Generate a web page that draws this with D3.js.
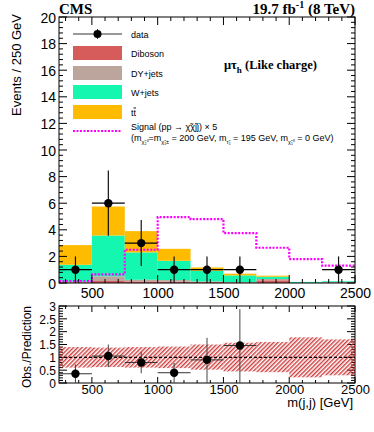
<!DOCTYPE html>
<html><head><meta charset="utf-8">
<script src="https://cdn.jsdelivr.net/npm/d3@7"></script>
<style>body{margin:0;background:#fff}svg{display:block}</style>
</head><body>
<svg id="c" width="374" height="432"></svg>
<script>
const binEdges = [250,500,750,1000,1250,1500,1750,2000,2250,2500];
const diboson = [0.05,0.15,0.12,0.10,0.07,0.05,0.20,0.01,0.05];
const dyjets  = [0.05,0.35,0.12,0.12,0.05,0.02,0.10,0.00,0.02];
const wjets   = [1.27,3.07,2.06,1.45,0.80,0.50,0.17,0.07,0.06];
const ttbar   = [1.48,2.18,1.60,0.90,0.25,0.13,0.08,0.00,0.00];
const signal  = [0.15,0.65,2.50,4.95,4.80,3.75,2.65,1.80,1.30];
const dataVal = [1,6,3,1,1,1,0,0,1];
const dataUp  = [2,8.45,4.73,2,2,2,0,0,2];
const dataDn  = [0,3.55,1.27,0,0,0,0,0,0];
const ratioVal = [0.36,1.05,0.80,0.40,0.90,1.46];
const ratioUp  = [0.72,1.50,1.21,0.78,1.76,2.88];
const ratioDn  = [0,0.62,0.38,0,0,0];
const bandUp   = [1.40,1.38,1.40,1.42,1.50,1.57,1.60,1.78,1.70];
const bandDn   = [0.60,0.62,0.60,0.58,0.52,0.45,0.42,0.22,0.30];
const xTicks = [500,1000,1500,2000,2500];
const yTicks = [0,2,4,6,8,10,12,14,16,18,20];
const rTicks = [0,0.5,1,1.5,2,2.5,3];
const rTickLabels = ["0","0.5","1","1.5","2","2.5","3"];
const seriesNames = ["Diboson","DY+jets","W+jets","tt"];
const seriesColors = ["#d65b5b","#bca59d","#14f7b0","#ffbb00"];

const svg = d3.select("#c");
const L=59, R=355, T=17, B=283, RT=306, RB=383;
const x = d3.scaleLinear().domain([250,2500]).range([L,R]);
const y = d3.scaleLinear().domain([0,20]).range([B,T]);
const ry = d3.scaleLinear().domain([0,3]).range([RB,RT]);
const sans = "'Liberation Sans', Arial, Helvetica, sans-serif";
const serif = "'Liberation Serif', 'Times New Roman', serif";

// stacked histogram
const rows = binEdges.slice(0,-1).map((e,i)=>({lo:e,hi:binEdges[i+1],Diboson:diboson[i],"DY+jets":dyjets[i],"W+jets":wjets[i],tt:ttbar[i]}));
const stacked = d3.stack().keys(seriesNames)(rows);
stacked.forEach((layer,k)=>{
  svg.append("g").selectAll("rect").data(layer).join("rect")
    .attr("x",d=>x(d.data.lo)).attr("width",d=>x(d.data.hi)-x(d.data.lo))
    .attr("y",d=>y(d[1])).attr("height",d=>Math.max(0,y(d[0])-y(d[1])))
    .attr("fill",seriesColors[k]);
});

// signal step line
let sp = [];
signal.forEach((v,i)=>{ sp.push([x(binEdges[i]),y(v)]); sp.push([x(binEdges[i+1]),y(v)]); });
svg.append("path").attr("d",d3.line()(sp)).attr("fill","none").attr("stroke","#ff00ff")
  .attr("stroke-width",2.2).attr("stroke-dasharray","2,1.5");

// data points
const dpts = dataVal.map((v,i)=>({v,up:dataUp[i],dn:dataDn[i],lo:binEdges[i],hi:binEdges[i+1]})).filter(d=>d.v>0);
const dg = svg.append("g");
dpts.forEach(d=>{
  const cx = x((d.lo+d.hi)/2);
  dg.append("line").attr("x1",x(d.lo)).attr("x2",x(d.hi)).attr("y1",y(d.v)).attr("y2",y(d.v)).attr("stroke","#000").attr("stroke-width",1.2);
  dg.append("line").attr("x1",cx).attr("x2",cx).attr("y1",y(d.up)).attr("y2",y(d.dn)).attr("stroke","#111").attr("stroke-width",1.2);
  dg.append("circle").attr("cx",cx).attr("cy",y(d.v)).attr("r",4.2).attr("fill","#000");
});

// axes helpers
function frame(top,bot){
  svg.append("rect").attr("x",L).attr("y",top).attr("width",R-L).attr("height",bot-top).attr("fill","none").attr("stroke","#000").attr("stroke-width",1);
}
function ticksX(top,bot,major,minor,fontSize,labelY){
  const g = svg.append("g");
  d3.range(300,2501,100).forEach(v=>{
    const isMaj = xTicks.includes(v);
    const len = isMaj?major:minor;
    g.append("line").attr("x1",x(v)).attr("x2",x(v)).attr("y1",bot).attr("y2",bot-len).attr("stroke","#000");
    g.append("line").attr("x1",x(v)).attr("x2",x(v)).attr("y1",top).attr("y2",top+len).attr("stroke","#000");
  });
  const ax = d3.axisBottom(x).tickValues(xTicks).tickFormat(d3.format("d")).tickSize(0).tickPadding(0);
  const a = svg.append("g").attr("transform",`translate(0,${labelY})`).call(ax);
  a.select(".domain").remove();
  a.selectAll("text").attr("font-family",sans).attr("font-size",fontSize).attr("fill","#000").attr("dy","0");
}
frame(T,B); frame(RT,RB);
ticksX(T,B,8,4,"14px",B+15);
ticksX(RT,RB,6,3,"13px",RB+11);

// main y ticks
const yg = svg.append("g");
d3.range(0,20.01,0.4).forEach(v=>{
  const isMaj = Math.abs(v/2-Math.round(v/2))<1e-6;
  const len = isMaj?8:4;
  yg.append("line").attr("x1",L).attr("x2",L+len).attr("y1",y(v)).attr("y2",y(v)).attr("stroke","#000");
  yg.append("line").attr("x1",R).attr("x2",R-len).attr("y1",y(v)).attr("y2",y(v)).attr("stroke","#000");
});
const yax = svg.append("g").attr("transform",`translate(${L-3},0)`).call(d3.axisLeft(y).tickValues(yTicks).tickSize(0).tickPadding(0));
yax.select(".domain").remove();
yax.selectAll("text").attr("font-family",sans).attr("font-size","14px").attr("fill","#000").attr("dy","0.36em");

// ratio y ticks
const rg = svg.append("g");
d3.range(0,3.001,0.1).forEach(v=>{
  const isMaj = Math.abs(v*2-Math.round(v*2))<1e-6;
  const len = isMaj?8:4;
  rg.append("line").attr("x1",L).attr("x2",L+len).attr("y1",ry(v)).attr("y2",ry(v)).attr("stroke","#000");
  rg.append("line").attr("x1",R).attr("x2",R-len).attr("y1",ry(v)).attr("y2",ry(v)).attr("stroke","#000");
});
const rax = svg.append("g").attr("transform",`translate(${L-3},0)`).call(d3.axisLeft(ry).tickValues(rTicks).tickFormat((d,i)=>rTickLabels[i]).tickSize(0).tickPadding(0));
rax.select(".domain").remove();
rax.selectAll("text").attr("font-family",sans).attr("font-size","12px").attr("fill","#000").attr("dy","0.36em");

// hatch band
const defs = svg.append("defs");
const pat = defs.append("pattern").attr("id","hatch").attr("patternUnits","userSpaceOnUse").attr("width",3).attr("height",3).attr("patternTransform","rotate(45)");
pat.append("line").attr("x1",0.75).attr("y1",0).attr("x2",0.75).attr("y2",3).attr("stroke","#c92a2a").attr("stroke-width",1.3);
svg.append("g").selectAll("rect").data(bandUp).join("rect")
  .attr("x",(d,i)=>x(binEdges[i])).attr("width",(d,i)=>x(binEdges[i+1])-x(binEdges[i]))
  .attr("y",d=>ry(d)).attr("height",(d,i)=>ry(bandDn[i])-ry(d)).attr("fill","url(#hatch)");
svg.append("line").attr("x1",L).attr("x2",R).attr("y1",ry(1)).attr("y2",ry(1)).attr("stroke","#000").attr("stroke-width",1.2).attr("stroke-dasharray","3,2");

// ratio points
ratioVal.forEach((v,i)=>{
  const cx = x((binEdges[i]+binEdges[i+1])/2);
  svg.append("line").attr("x1",x(binEdges[i])).attr("x2",x(binEdges[i+1])).attr("y1",ry(v)).attr("y2",ry(v)).attr("stroke","#333").attr("stroke-width",1);
  svg.append("line").attr("x1",cx).attr("x2",cx).attr("y1",ry(ratioUp[i])).attr("y2",ry(ratioDn[i])).attr("stroke","#444").attr("stroke-width",1);
  svg.append("circle").attr("cx",cx).attr("cy",ry(v)).attr("r",4.2).attr("fill","#000");
});

// titles
svg.append("text").attr("x",L).attr("y",14).attr("font-family",serif).attr("font-weight","bold").attr("font-size","15px").text("CMS");
const lum = svg.append("text").attr("x",R).attr("y",14).attr("text-anchor","end").attr("font-family",serif).attr("font-weight","bold").attr("font-size","15px");
lum.append("tspan").text("19.7 fb");
lum.append("tspan").attr("dy",-6).attr("font-size","10px").text("-1");
lum.append("tspan").attr("dy",6).text(" (8 TeV)");
svg.append("text").attr("transform","translate(21,14) rotate(-90)").attr("text-anchor","end").attr("font-family",sans).attr("font-size","13px").text("Events / 250 GeV");
svg.append("text").attr("transform","translate(31,347) rotate(-90)").attr("text-anchor","middle").attr("font-family",sans).attr("font-size","12px").text("Obs./Prediction");
svg.append("text").attr("x",353).attr("y",407).attr("text-anchor","end").attr("font-family",sans).attr("font-size","13px").text("m(j,j) [GeV]");
const ch = svg.append("text").attr("x",224).attr("y",69).attr("font-family",serif).attr("font-weight","bold").attr("font-size","12.5px");
ch.append("tspan").text("μτ");
ch.append("tspan").attr("dy",4).attr("font-size","9px").text("h");
ch.append("tspan").attr("dy",-4).text(" (Like charge)");

// legend
const lx0=73, lx1=122, tx=131;
const leg = svg.append("g").attr("font-family",sans).attr("font-size","9px");
leg.append("line").attr("x1",lx0).attr("x2",lx1).attr("y1",34).attr("y2",34).attr("stroke","#333");
leg.append("line").attr("x1",97.5).attr("x2",97.5).attr("y1",29).attr("y2",39).attr("stroke","#333");
leg.append("circle").attr("cx",97.5).attr("cy",34).attr("r",4).attr("fill","#000");
leg.append("text").attr("x",tx).attr("y",37.5).text("data");
const legY = [53,73,92,112];
const legLabels = ["Diboson","DY+jets","W+jets"];
legY.forEach((yy,i)=>{
  leg.append("rect").attr("x",lx0).attr("y",yy-7).attr("width",lx1-lx0).attr("height",14).attr("fill",seriesColors[i]);
  if(i<3) leg.append("text").attr("x",tx).attr("y",yy+3.5).text(legLabels[i]);
});
const ttl = leg.append("text").attr("x",tx).attr("y",115.5);
ttl.append("tspan").text("t");
ttl.append("tspan").attr("text-decoration","overline").text("t");
leg.append("line").attr("x1",lx0).attr("x2",lx1).attr("y1",131).attr("y2",131).attr("stroke","#ff00ff").attr("stroke-width",2.2).attr("stroke-dasharray","2,1.5");
leg.append("text").attr("x",tx).attr("y",130).text("Signal (pp → χ̃χ̃jj) × 5");
const l2 = leg.append("text").attr("x",tx).attr("y",141);
l2.append("tspan").text("(m");
l2.append("tspan").attr("dy",3).attr("font-size","5.5px").text("χ̃₂⁰");
l2.append("tspan").attr("dy",-3).text("=m");
l2.append("tspan").attr("dy",3).attr("font-size","5.5px").text("χ̃₁±");
l2.append("tspan").attr("dy",-3).text(" = 200 GeV, m");
l2.append("tspan").attr("dy",3).attr("font-size","5.5px").text("τ̃₁");
l2.append("tspan").attr("dy",-3).text(" = 195 GeV, m");
l2.append("tspan").attr("dy",3).attr("font-size","5.5px").text("χ̃₁⁰");
l2.append("tspan").attr("dy",-3).text(" = 0 GeV)");
</script>
</body></html>
